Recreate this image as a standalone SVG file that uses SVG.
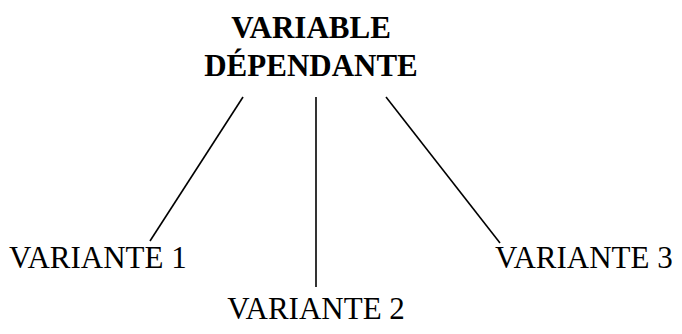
<svg xmlns="http://www.w3.org/2000/svg" width="682" height="334" viewBox="0 0 682 334">
<style>
.t{font-family:"Liberation Serif","Times New Roman",serif;fill:#000}
.h{font-size:31px;font-weight:bold;text-anchor:middle}
.v{font-size:31px}
.c line{stroke:#000;stroke-width:1.6;fill:none}
</style>
<rect width="682" height="334" fill="#fff"/>
<g id="root">
<text class="t h" x="311" y="38">VARIABLE</text>
<text class="t h" x="311" y="76">DÉPENDANTE</text>
</g>
<g id="v1"><text class="t v" x="9" y="268">VARIANTE 1</text></g>
<g id="v2"><text class="t v" x="316" y="319" text-anchor="middle">VARIANTE 2</text></g>
<g id="v3"><text class="t v" x="495" y="268">VARIANTE 3</text></g>
<g class="c" id="connectors">
<line x1="243" y1="97" x2="150" y2="241"/>
<line x1="316" y1="97" x2="316" y2="287"/>
<line x1="386" y1="97" x2="500" y2="243"/>
</g>
</svg>
